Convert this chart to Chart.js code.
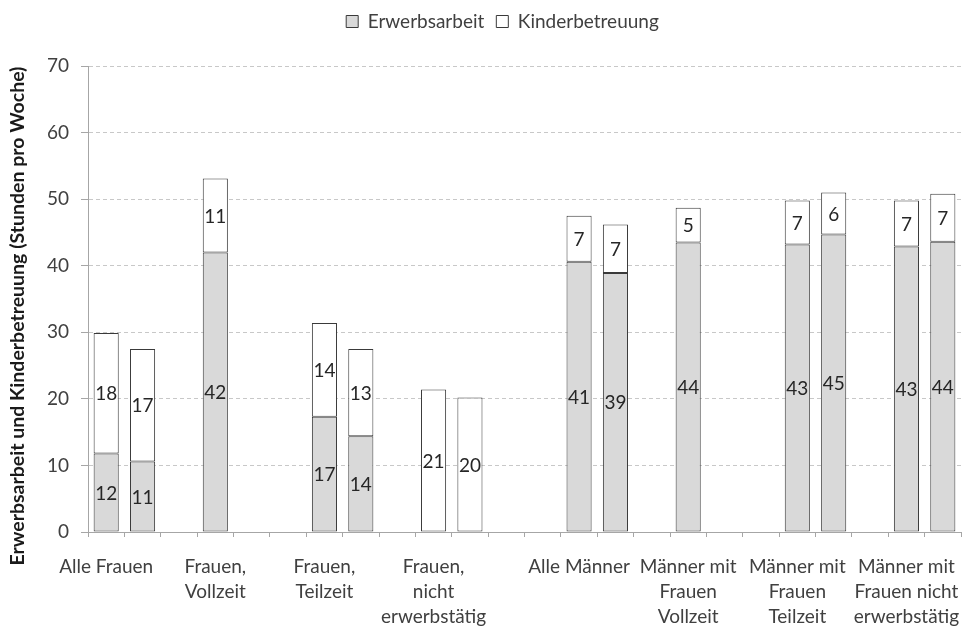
<!DOCTYPE html>
<html>
<head>
<meta charset="utf-8">
<script src="https://cdn.jsdelivr.net/npm/chart.js@4.4.1/dist/chart.umd.min.js"></script>
<style>
  html, body { margin: 0; padding: 0; background: #ffffff; }
  #wrap { width: 963px; height: 626px; }
</style>
</head>
<body>
<div id="wrap"><canvas id="c" width="963" height="626"></canvas></div>
<script>
// ---- data ----
const groupLabels = [
  'Alle Frauen',
  ['Frauen,', 'Vollzeit'],
  ['Frauen,', 'Teilzeit'],
  ['Frauen,', 'nicht', 'erwerbstätig'],
  'Alle Männer',
  ['Männer mit', 'Frauen', 'Vollzeit'],
  ['Männer mit', 'Frauen', 'Teilzeit'],
  ['Männer mit', 'Frauen nicht', 'erwerbstätig']
];
const seriesNames = ['Erwerbsarbeit', 'Kinderbetreuung'];
const erwerbFirst  = [11.8, 42.0, 17.3, 0,    40.6, 43.5, 43.2, 42.9];
const kinderFirst  = [18.1, 11.1, 14.1, 21.4, 6.9,  5.2,  6.6,  6.9];
const erwerbSecond = [10.6, null, 14.4, 0,    38.9, null, 44.7, 43.6];
const kinderSecond = [16.9, null, 13.1, 20.2, 7.3,  null, 6.3,  7.2];
const yTicks = [0, 10, 20, 30, 40, 50, 60, 70];
const yTitle = 'Erwerbsarbeit und Kinderbetreuung (Stunden pro Woche)';
const femaleGroupCount = 4;

// ---- build category slots: first bar, second bar, spacer ----
const slotLabels = [], erwerbData = [], kinderData = [];
groupLabels.forEach((lab, i) => {
  slotLabels.push(lab); erwerbData.push(erwerbFirst[i]); kinderData.push(kinderFirst[i]);
  slotLabels.push(''); erwerbData.push(erwerbSecond[i]); kinderData.push(kinderSecond[i]);
  if (i < groupLabels.length - 1) { slotLabels.push(''); erwerbData.push(null); kinderData.push(null); }
  if (i === femaleGroupCount - 1) { slotLabels.push(''); erwerbData.push(null); kinderData.push(null); }
});

const FONT = 'Lato, "Open Sans", sans-serif';
const TXT = '#404040';

const segmentLabels = {
  id: 'segmentLabels',
  afterDatasetsDraw(chart) {
    const ctx = chart.ctx;
    ctx.save();
    ctx.font = '19px ' + FONT;
    ctx.fillStyle = '#262626';
    ctx.textAlign = 'center';
    ctx.textBaseline = 'middle';
    chart.data.datasets.forEach((ds, di) => {
      const meta = chart.getDatasetMeta(di);
      meta.data.forEach((el, j) => {
        const v = ds.data[j];
        if (v == null || v < 0.5) return;
        ctx.fillText(String(Math.round(v)), el.x, (el.y + el.base) / 2 + 1);
      });
    });
    ctx.restore();
  }
};

const yAxisTitle = {
  id: 'yAxisTitle',
  afterDraw(chart) {
    const ctx = chart.ctx;
    ctx.save();
    ctx.translate(18, 316);
    ctx.rotate(-Math.PI / 2);
    ctx.font = 'bold 19.5px ' + FONT;
    ctx.fillStyle = '#1a1a1a';
    ctx.textAlign = 'center';
    ctx.textBaseline = 'middle';
    ctx.fillText(yTitle, 0, 0);
    ctx.restore();
  }
};

const legendFit = {
  id: 'legendFit',
  beforeLayout(chart) {
    const lg = chart.legend;
    if (lg && !lg._patched) {
      const fit = lg.fit;
      lg.fit = function () { fit.call(this); this.height = 66; };
      lg._patched = true;
    }
  },
  afterLayout(chart) {
    const lg = chart.legend;
    if (lg) { lg.left += 22; lg.right += 22; }
  }
};

new Chart(document.getElementById('c'), {
  type: 'bar',
  data: {
    labels: slotLabels,
    datasets: [
      {
        label: seriesNames[0], data: erwerbData,
        backgroundColor: '#d9d9d9', borderColor: '#3a3a3a', borderWidth: 1,
        borderSkipped: false, barPercentage: 0.69, categoryPercentage: 1
      },
      {
        label: seriesNames[1], data: kinderData,
        backgroundColor: '#ffffff', borderColor: '#3a3a3a', borderWidth: 1,
        borderSkipped: false, barPercentage: 0.69, categoryPercentage: 1
      }
    ]
  },
  options: {
    responsive: false,
    animation: false,
    layout: { padding: { left: 0, right: 2, top: 0, bottom: 0 } },
    plugins: {
      legend: {
        position: 'top',
        labels: {
          boxWidth: 12, boxHeight: 12, padding: 12,
          color: TXT, font: { family: FONT, size: 19 }
        }
      },
      tooltip: { enabled: false }
    },
    scales: {
      x: {
        stacked: true,
        afterFit(s) { s.height = 94; },
        border: { display: true, color: '#a6a6a6', width: 1 },
        grid: { display: true, drawOnChartArea: false, drawTicks: true, tickLength: 5, tickColor: '#a6a6a6', offset: true },
        ticks: {
          autoSkip: false, maxRotation: 0, minRotation: 0, padding: 17,
          color: TXT, font: { family: FONT, size: 19, lineHeight: 1.32 }
        }
      },
      y: {
        stacked: true,
        min: 0, max: 70,
        afterFit(s) { s.width = 88; },
        afterBuildTicks(s) { s.ticks = yTicks.map(v => ({ value: v })); },
        border: { display: true, color: '#a6a6a6', width: 1, dash: [4, 3] },
        grid: { color: '#c8c8c8', drawTicks: true, tickLength: 7, tickColor: '#a6a6a6', tickBorderDash: [] },
        ticks: { padding: 12, color: TXT, font: { family: FONT, size: 19 } }
      }
    }
  },
  plugins: [segmentLabels, yAxisTitle, legendFit]
});
</script>
</body>
</html>
